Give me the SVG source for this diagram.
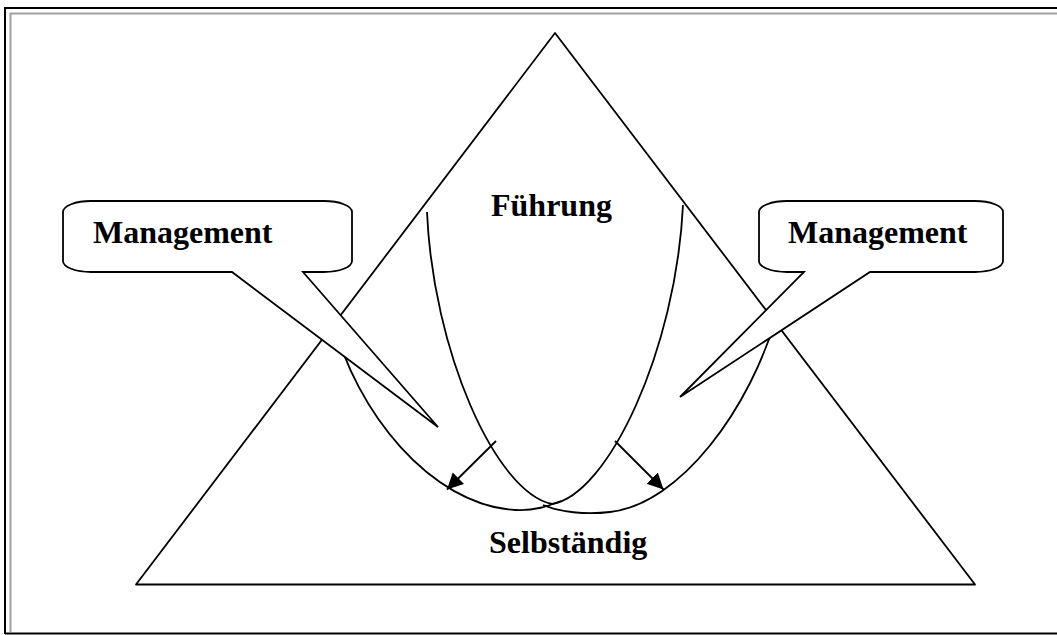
<svg xmlns="http://www.w3.org/2000/svg" width="1057" height="635" viewBox="0 0 1057 635">
  <defs>
    <style>
      .ln { fill: none; stroke: #000; stroke-width: 1.8; stroke-linejoin: round; }
      .callout { fill: #fff; stroke: #000; stroke-width: 1.8; stroke-linejoin: miter; }
      .lbl { font-family: "Liberation Serif", "Times New Roman", serif; font-weight: bold; font-size: 32px; fill: #000; }
    </style>
    <marker id="arrow" markerUnits="userSpaceOnUse" markerWidth="18" markerHeight="18" viewBox="0 0 18 18" refX="16" refY="9" orient="auto">
      <path d="M0,1 L16,9 L0,17 Z" fill="#000"/>
    </marker>
  </defs>

  <rect width="1057" height="635" fill="#fff"/>

  <!-- page frame -->
  <g id="frame">
    <path d="M5,634 V8 H1057" fill="none" stroke="#000" stroke-width="2"/>
    <path d="M5,633.5 H1057" fill="none" stroke="#000" stroke-width="2"/>
    <path d="M10.5,632 V13.5 H1057" fill="none" stroke="#a0a0a0" stroke-width="2"/>
  </g>

  <!-- pyramid -->
  <g id="pyramid">
    <path class="ln" d="M555,33 L975,584.5 L136,584.5 Z"/>
  </g>

  <!-- bowl curves and arrows -->
  <g id="connectors">
    <path class="ln" d="M427,212 C433,350 495,492 552,504 C608,495 676,350 683,205"/>
    <path class="ln" d="M333,320 C355,410 430,505 515,510 C535,511 548,506 561,501"/>
    <path class="ln" d="M543,505 C560,512 585,515 610,512 C680,504 750,410 778,312"/>
    <line class="ln" x1="496" y1="441" x2="447" y2="489.5" marker-end="url(#arrow)"/>
    <line class="ln" x1="615" y1="441" x2="663.5" y2="489.5" marker-end="url(#arrow)"/>
  </g>

  <!-- callouts -->
  <g id="callout-left">
    <path class="callout" d="M91,201 H324 A28,11 0 0 1 352,212 V261 A28,11 0 0 1 324,272 H303 L438,427 L232,272 H91 A28,11 0 0 1 63,261 V212 A28,11 0 0 1 91,201 Z"/>
    <text class="lbl" x="93" y="243">Management</text>
  </g>
  <g id="callout-right">
    <path class="callout" d="M787,201 H975 A28,11 0 0 1 1003,212 V261 A28,11 0 0 1 975,272 H870 L680,397 L804,272 H787 A28,11 0 0 1 759,261 V212 A28,11 0 0 1 787,201 Z"/>
    <text class="lbl" x="788" y="243">Management</text>
  </g>

  <!-- labels -->
  <g id="label-fuehrung">
    <text class="lbl" x="491" y="216">Führung</text>
  </g>
  <g id="label-selbstaendig">
    <text class="lbl" x="489" y="553">Selbständig</text>
  </g>
</svg>
